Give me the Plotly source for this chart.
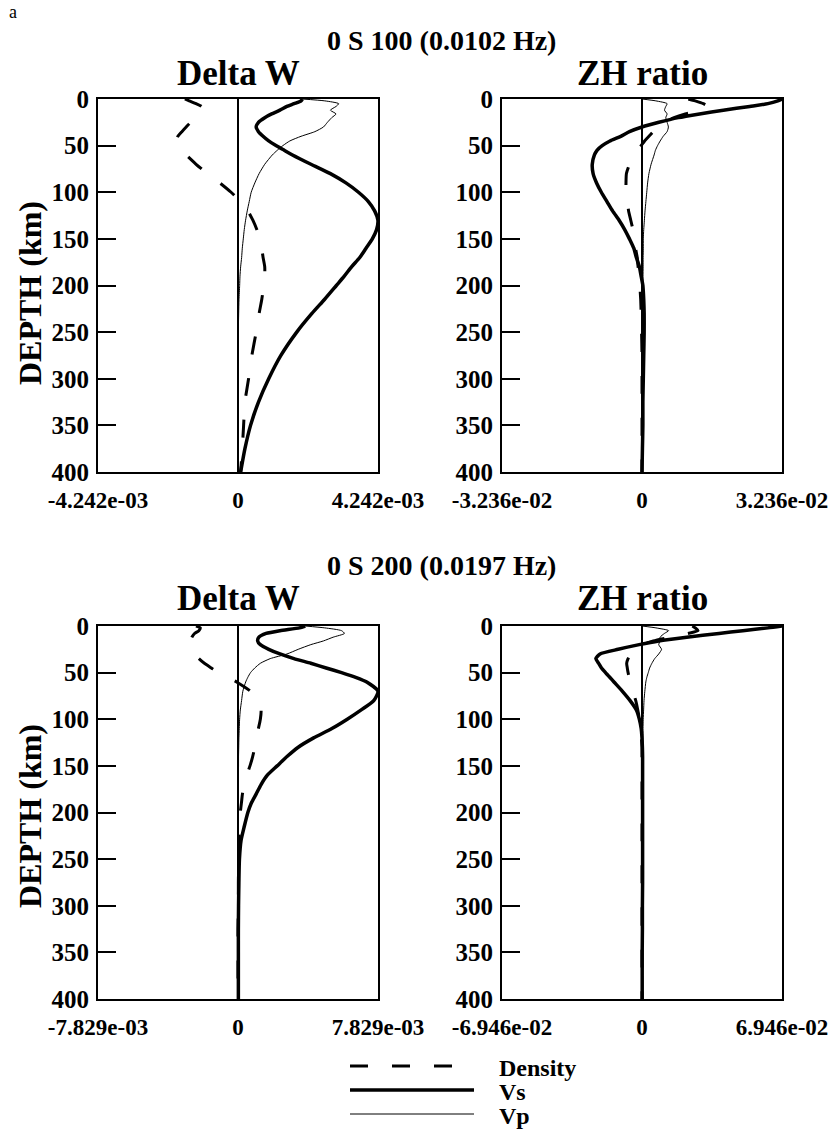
import plotly.graph_objects as go

# ---------------- data ----------------
depth_km = [0, 2, 5, 8, 12, 16, 20, 25, 30, 35, 40, 45, 50, 55, 60, 70, 80, 90, 100,
            110, 120, 130, 140, 150, 160, 170, 180, 190, 200, 215, 230, 250, 275, 300,
            325, 350, 375, 400]

# 0 S 100, Delta W (units 1e-3)
dw100_vs = [1.95, 1.91, 1.70, 1.48, 1.27, 1.02, 0.81, 0.62, 0.55, 0.62, 0.76, 0.93, 1.15, 1.40,
            1.65, 2.21, 2.80, 3.27, 3.65, 3.95, 4.14, 4.24, 4.20, 4.07, 3.88, 3.69, 3.44, 3.22,
            2.98, 2.62, 2.24, 1.78, 1.30, 0.93, 0.62, 0.38, 0.21, 0.08]
dw100_vp = [1.95, 2.63, 3.05, 2.97, 2.80, 2.97, 2.84, 2.71, 2.59, 2.33, 1.91, 1.57, 1.36, 1.19,
            1.04, 0.81, 0.64, 0.51, 0.40, 0.34, 0.28, 0.23, 0.19, 0.16, 0.13, 0.11, 0.08, 0.06,
            0.05, 0.03, 0.02, 0.01, 0.01, 0.0, 0.0, 0.0, 0.0, 0.0]
dw100_rho = [-1.61, -1.48, -1.27, -1.10, -1.06, -1.15, -1.27, -1.44, -1.57, -1.70, -1.82, -1.87,
             -1.82, -1.70, -1.57, -1.27, -0.93, -0.55, -0.21, 0.08, 0.30, 0.45, 0.57, 0.66, 0.72,
             0.76, 0.81, 0.81, 0.78, 0.72, 0.64, 0.55, 0.42, 0.32, 0.21, 0.17, 0.13, 0.08]

# 0 S 100, ZH ratio (units 1e-2)
zh100_vs = [3.24, 3.14, 2.91, 2.49, 1.88, 1.33, 0.84, 0.39, 0.0, -0.29, -0.49, -0.74, -0.92, -1.04,
            -1.10, -1.15, -1.13, -1.05, -0.94, -0.81, -0.68, -0.53, -0.40, -0.29, -0.19, -0.13,
            -0.06, -0.02, 0.02, 0.04, 0.05, 0.05, 0.04, 0.03, 0.02, 0.02, 0.01, 0.0]
zh100_vp = [0.0, 0.32, 0.58, 0.55, 0.52, 0.58, 0.55, 0.58, 0.61, 0.58, 0.49, 0.42, 0.36, 0.31,
            0.28, 0.21, 0.16, 0.13, 0.11, 0.09, 0.07, 0.055, 0.04, 0.03, 0.03, 0.026, 0.026,
            0.023, 0.023, 0.02, 0.02, 0.016, 0.016, 0.013, 0.01, 0.01, 0.006, 0.006]
zh100_rho = [1.07, 1.23, 1.42, 1.52, 1.36, 1.00, 0.74, 0.52, 0.36, 0.26, 0.16, 0.06, -0.02, -0.11,
             -0.19, -0.29, -0.36, -0.37, -0.37, -0.34, -0.31, -0.26, -0.21, -0.18, -0.15, -0.11,
             -0.09, -0.06, -0.05, -0.03, -0.02, -0.01, 0.0, 0.0, 0.0, 0.0, 0.0, 0.0]

# 0 S 200, Delta W (units 1e-3)
dw200_vs = [3.76, 3.44, 2.35, 1.57, 1.17, 1.10, 1.25, 1.72, 2.35, 3.13, 4.07, 4.93, 5.79, 6.58,
            7.20, 7.83, 7.59, 6.89, 6.11, 5.25, 4.23, 3.37, 2.74, 2.19, 1.64, 1.29, 1.02, 0.74,
            0.55, 0.35, 0.17, 0.08, 0.05, 0.03, 0.02, 0.02, 0.02, 0.02]
dw200_vp = [3.76, 4.85, 5.79, 5.95, 5.32, 4.78, 4.07, 3.37, 2.74, 1.80, 1.25, 0.94, 0.70, 0.55,
            0.43, 0.27, 0.20, 0.13, 0.09, 0.07, 0.05, 0.04, 0.03, 0.03, 0.02, 0.02, 0.02, 0.02,
            0.02, 0.01, 0.01, 0.01, 0.01, 0.0, 0.0, 0.0, 0.0, 0.0]
dw200_rho = [-2.35, -2.11, -2.19, -2.43, -2.58, -2.66, -2.66, -2.58, -2.43, -2.19, -1.88, -1.49,
             -1.10, -0.55, -0.08, 0.70, 1.10, 1.29, 1.25, 1.14, 1.02, 0.94, 0.82, 0.67, 0.49,
             0.35, 0.25, 0.19, 0.13, 0.09, 0.06, 0.04, 0.02, 0.02, 0.0, 0.0, 0.0, 0.0]

# 0 S 200, ZH ratio (units 1e-2)
zh200_vs = [6.95, 6.25, 5.00, 3.82, 2.22, 0.83, -0.14, -1.18, -2.08, -2.29, -2.15, -2.01, -1.81,
            -1.60, -1.39, -0.97, -0.59, -0.28, -0.13, -0.04, 0.0, 0.02, 0.03, 0.03, 0.03, 0.03,
            0.03, 0.03, 0.03, 0.03, 0.03, 0.03, 0.03, 0.02, 0.02, 0.01, 0.01, 0.01]
zh200_vp = [0.0, 0.69, 1.32, 1.11, 0.90, 0.90, 0.83, 0.97, 0.83, 0.63, 0.49, 0.38, 0.31, 0.24,
            0.19, 0.14, 0.10, 0.08, 0.06, 0.05, 0.05, 0.04, 0.04, 0.04, 0.03, 0.03, 0.03, 0.03,
            0.03, 0.03, 0.02, 0.02, 0.02, 0.02, 0.01, 0.01, 0.01, 0.01]
zh200_rho = [2.50, 2.64, 2.78, 2.29, 1.39, 0.56, 0.0, -0.35, -0.56, -0.69, -0.76, -0.73, -0.69,
             -0.64, -0.59, -0.45, -0.31, -0.21, -0.13, -0.07, -0.03, 0.0, 0.0, 0.0, 0.0, 0.0,
             0.0, 0.0, 0.0, 0.0, 0.0, 0.0, 0.0, 0.0, 0.0, 0.0, 0.0, 0.0]

# axis half-widths and their tick labels
panel_max = [4.242, 3.236, 7.829, 6.946]
panel_ticktext = [["-4.242e-03", "0", "4.242e-03"],
                  ["-3.236e-02", "0", "3.236e-02"],
                  ["-7.829e-03", "0", "7.829e-03"],
                  ["-6.946e-02", "0", "6.946e-02"]]
depth_ticks = [0, 50, 100, 150, 200, 250, 300, 350, 400]

series_names = ["Density", "Vs", "Vp"]
panel_series = [
    [dw100_rho, dw100_vs, dw100_vp],
    [zh100_rho, zh100_vs, zh100_vp],
    [dw200_rho, dw200_vs, dw200_vp],
    [zh200_rho, zh200_vs, zh200_vp],
]

# ---------------- styling ----------------
W, H = 837, 1130
FONT = "Liberation Serif"
line_styles = [dict(color="black", width=3, dash="18px,24px"),
               dict(color="black", width=3.5),
               dict(color="black", width=1)]


def px_x(p):
    return p / W


def px_y(p):
    return 1 - p / H


x_domains = [(98, 378), (502, 782), (98, 378), (502, 782)]
y_domains = [(99, 472), (99, 472), (626, 999), (626, 999)]

fig = go.Figure()
for i, series in enumerate(panel_series):
    suffix = "" if i == 0 else str(i + 1)
    for name, vals, st in zip(series_names, series, line_styles):
        fig.add_trace(go.Scatter(
            x=vals, y=depth_km, mode="lines", name=name,
            line=dict(shape="spline", smoothing=0.6, **st),
            xaxis="x" + suffix, yaxis="y" + suffix, showlegend=False,
            hoverinfo="skip"))

layout = dict(
    width=W, height=H, autosize=False,
    margin=dict(l=0, r=0, t=0, b=0, autoexpand=False),
    paper_bgcolor="white", plot_bgcolor="white",
    showlegend=False,
)
xtickfont = dict(family=FONT, size=23, color="black", weight="bold")
ytickfont = dict(family=FONT, size=25, color="black", weight="bold")
for i in range(4):
    suffix = "" if i == 0 else str(i + 1)
    m = panel_max[i]
    (x0, x1), (y0, y1) = x_domains[i], y_domains[i]
    layout["xaxis" + suffix] = dict(
        domain=[px_x(x0), px_x(x1)], anchor="y" + suffix, automargin=False,
        range=[-m, m], tickvals=[-m, 0, m], ticktext=panel_ticktext[i],
        ticks="", showgrid=False, zeroline=True, zerolinecolor="black",
        zerolinewidth=1.5, showline=True, linecolor="black", linewidth=2,
        mirror=True, tickfont=xtickfont, ticklabelstandoff=6, fixedrange=True)
    layout["yaxis" + suffix] = dict(
        domain=[px_y(y1), px_y(y0)], anchor="x" + suffix, automargin=False,
        range=[400, 0], tickvals=depth_ticks, ticktext=[str(t) for t in depth_ticks],
        ticks="inside", ticklen=18, tickwidth=2, tickcolor="black",
        showgrid=False, zeroline=False, showline=True, linecolor="black",
        linewidth=2, mirror=True, tickfont=ytickfont, ticklabelstandoff=2,
        fixedrange=True)

bold = dict(family=FONT, color="black", weight="bold")
annotations = [
    dict(text="a", x=px_x(7), y=px_y(12), xanchor="left", yanchor="middle",
         font=dict(family=FONT, size=18, color="black")),
    dict(text="0 S 100 (0.0102 Hz)", x=px_x(441), y=px_y(40), font=dict(size=28, **bold)),
    dict(text="Delta W", x=px_x(238), y=px_y(73), font=dict(size=35, **bold)),
    dict(text="ZH ratio", x=px_x(642), y=px_y(73), font=dict(size=35, **bold)),
    dict(text="0 S 200 (0.0197 Hz)", x=px_x(441), y=px_y(565), font=dict(size=28, **bold)),
    dict(text="Delta W", x=px_x(238), y=px_y(598), font=dict(size=35, **bold)),
    dict(text="ZH ratio", x=px_x(642), y=px_y(598), font=dict(size=35, **bold)),
    dict(text="DEPTH (km)", x=px_x(30), y=px_y(293), textangle=-90, font=dict(size=32, **bold)),
    dict(text="DEPTH (km)", x=px_x(30), y=px_y(816), textangle=-90, font=dict(size=32, **bold)),
]
legend_rows = [(1066, "Density"), (1090, "Vs"), (1114, "Vp")]
shapes = []
for (yy, label), st in zip(legend_rows, line_styles):
    shapes.append(dict(type="line", xref="paper", yref="paper",
                       x0=px_x(350), x1=px_x(474), y0=px_y(yy), y1=px_y(yy),
                       line=st))
    annotations.append(dict(text=label, x=px_x(497), y=px_y(yy + 2), xanchor="left",
                            yanchor="middle", font=dict(size=24, **bold)))
for a in annotations:
    a.setdefault("xref", "paper")
    a.setdefault("yref", "paper")
    a.setdefault("showarrow", False)
    a.setdefault("xanchor", "center")
    a.setdefault("yanchor", "middle")
layout["annotations"] = annotations
layout["shapes"] = shapes
fig.update_layout(**layout)

fig.write_html("out.html", config={"displayModeBar": False},
               post_script="document.body.style.margin='0px';")
